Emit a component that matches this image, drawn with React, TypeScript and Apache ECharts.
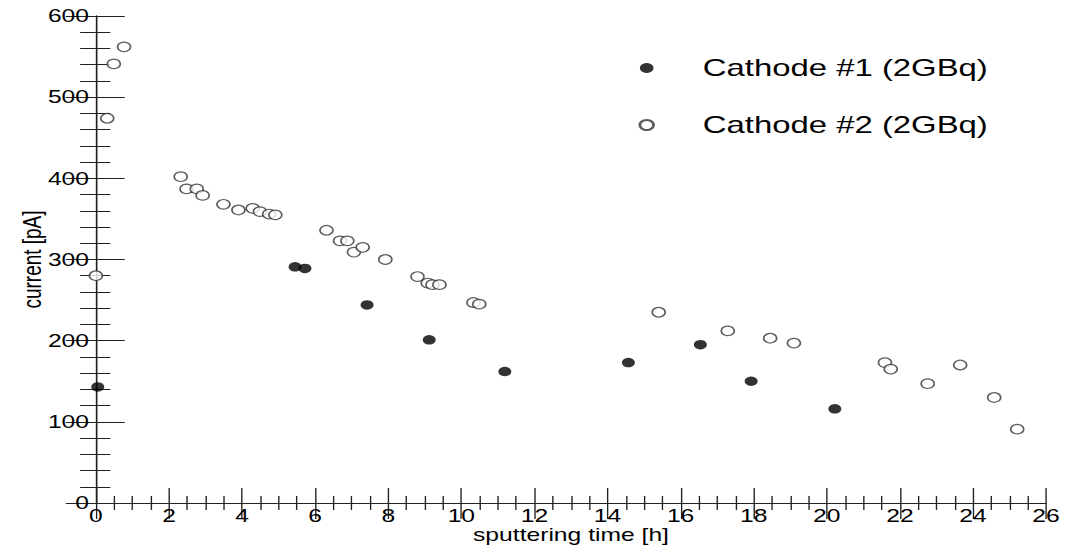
import React, { useEffect, useRef } from "react";
import * as echarts from "echarts";

const cathode1X = [0.05, 5.45, 5.72, 7.42, 9.12, 11.19, 14.57, 16.54, 17.93, 20.22];
const cathode1Y = [143, 291, 289, 244, 201, 162, 173, 195, 150, 116];

const cathode2X = [
  0.0, 0.31, 0.49, 0.77, 2.32, 2.48, 2.76, 2.92, 3.49, 3.9, 4.29, 4.49, 4.74, 4.91,
  6.31, 6.68, 6.88, 7.06, 7.3, 7.92, 8.8, 9.08, 9.21, 9.4, 10.33, 10.49, 15.4, 17.29,
  18.45, 19.1, 21.59, 21.75, 22.76, 23.65, 24.58, 25.21,
];
const cathode2Y = [
  280, 474, 541, 562, 402, 387, 387, 379, 368, 361, 363, 359, 356, 355, 336, 323, 323,
  309, 315, 300, 279, 271, 269, 269, 247, 245, 235, 212, 203, 197, 173, 165, 147, 170,
  130, 91,
];

const seriesNames = ["Cathode #1 (2GBq)", "Cathode #2 (2GBq)"];
const xTitle = "sputtering time [h]";
const yTitle = "current [pA]";

const STRETCH = 1.3701;
const INNER_W = 789;
const H = 547;
const FONT = '"Liberation Sans", Arial, sans-serif';

export default function App() {
  const ref = useRef<HTMLDivElement>(null);
  useEffect(() => {
    if (!ref.current) return;
    const chart = echarts.init(ref.current, undefined, { renderer: "svg" });
    const axisLine = { show: true, lineStyle: { color: "#222", width: 1 } };
    const xCommon = {
      type: "value" as const,
      min: 0,
      max: 26,
      interval: 2,
      splitLine: { show: false },
      axisLine,
    };
    const yCommon = {
      type: "value" as const,
      min: 0,
      max: 600,
      interval: 100,
      splitLine: { show: false },
      axisLine,
    };
    chart.setOption({
      animation: false,
      textStyle: { fontFamily: FONT },
      grid: {
        left: 70,
        right: 25.5,
        top: 16,
        bottom: 44,
        containLabel: false,
        outerBoundsMode: "none",
      },
      legend: {
        orient: "vertical",
        left: 461,
        top: 51,
        itemWidth: 10,
        itemHeight: 10,
        itemGap: 33,
        data: seriesNames,
        textStyle: {
          fontSize: 24,
          lineHeight: 24,
          color: "#000",
          fontFamily: FONT,
          padding: [0, 0, 0, 31],
        },
      },
      xAxis: [
        {
          ...xCommon,
          position: "bottom",
          name: xTitle,
          nameLocation: "middle",
          nameGap: 23,
          nameMoveOverlap: false,
          nameTextStyle: { fontSize: 18, color: "#000", fontFamily: FONT },
          axisTick: { show: true, inside: true, length: 15, lineStyle: { color: "#222" } },
          minorTick: { show: true, splitNumber: 4, length: 7, lineStyle: { color: "#222" } },
          axisLabel: { show: true, fontSize: 18, color: "#000", margin: 4, fontFamily: FONT },
        },
        {
          ...xCommon,
          position: "top",
          axisTick: { show: true, inside: true, length: 16, lineStyle: { color: "#222" } },
          minorTick: { show: true, splitNumber: 4, length: 7, lineStyle: { color: "#222" } },
          axisLabel: { show: false },
        },
      ],
      yAxis: [
        {
          ...yCommon,
          position: "left",
          name: yTitle,
          nameLocation: "middle",
          nameRotate: 90,
          nameGap: 37,
          nameMoveOverlap: false,
          nameTextStyle: { fontSize: 19, color: "#000", fontFamily: FONT },
          axisTick: { show: true, inside: true, length: 21, lineStyle: { color: "#222" } },
          minorTick: { show: true, splitNumber: 5, length: 10.5, lineStyle: { color: "#222" } },
          axisLabel: { show: true, fontSize: 18, color: "#000", margin: 5, fontFamily: FONT },
        },
        {
          ...yCommon,
          position: "right",
          axisTick: { show: true, inside: true, length: 22, lineStyle: { color: "#222" } },
          minorTick: { show: true, splitNumber: 5, length: 11.5, lineStyle: { color: "#222" } },
          axisLabel: { show: false },
        },
      ],
      series: [
        {
          name: seriesNames[0],
          type: "scatter",
          xAxisIndex: 0,
          yAxisIndex: 0,
          symbol: "circle",
          symbolSize: 9.5,
          itemStyle: { color: "#000", borderColor: "#000", borderWidth: 0 },
          data: cathode1X.map((x, i) => [x, cathode1Y[i]]),
        },
        {
          name: seriesNames[1],
          type: "scatter",
          xAxisIndex: 0,
          yAxisIndex: 0,
          symbol: "circle",
          symbolSize: 9.5,
          itemStyle: { color: "#fff", borderColor: "#333", borderWidth: 1.2 },
          data: cathode2X.map((x, i) => [x, cathode2Y[i]]),
        },
      ],
    });
    return () => chart.dispose();
  }, []);
  return (
    <div
      ref={ref}
      style={{
        position: "fixed",
        left: 0,
        top: 0,
        width: INNER_W,
        height: H,
        transform: `scaleX(${STRETCH})`,
        transformOrigin: "0 0",
        background: "#fff",
      }}
    />
  );
}
